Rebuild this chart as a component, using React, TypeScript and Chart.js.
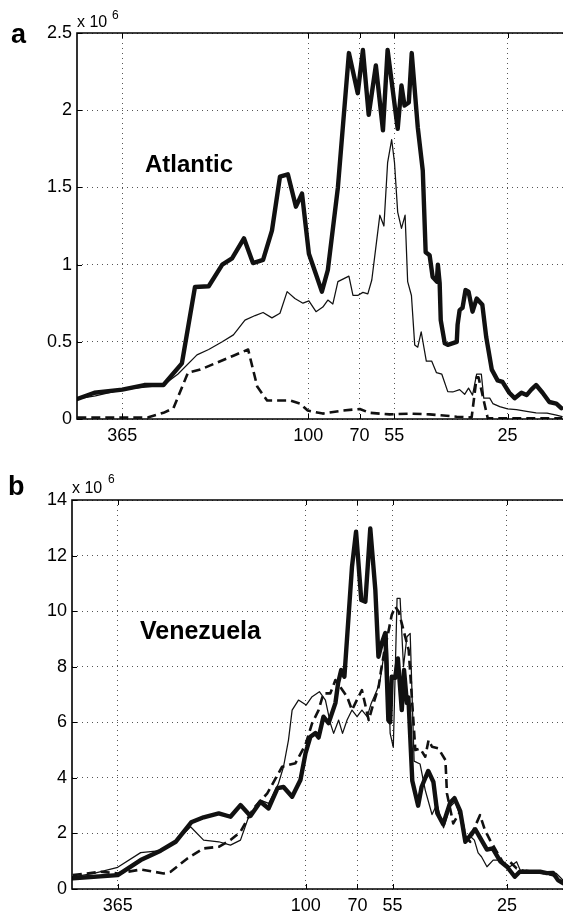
import React, { useEffect, useRef } from "react";
import { Chart, registerables } from "chart.js";

Chart.register(...registerables);

const FONT = '"Liberation Sans", Arial, Helvetica, sans-serif';

// x axis: period in days (log scale, long periods on the left)
const periodTicks = [365, 100, 70, 55, 25];
const periodMin = 17;
const periodMax = 500;

// ---------- Panel a: Atlantic (values in units of 10^6) ----------
const atlanticYTicks = [0, 0.5, 1, 1.5, 2, 2.5];

const atlanticThickPeriod = [499, 443, 365, 313, 274, 241, 220, 200, 182, 170, 156.5, 147, 137, 128.8, 121.8, 115.3, 109, 104.5, 99.6, 94.2, 91, 87.3, 81.4, 75.4, 70.9, 68.4, 65.7, 62.5, 59.5, 57.6, 53.7, 52.3, 51.2, 49.7, 48.7, 46.7, 45.1, 44.2, 43.0, 42.1, 40.9, 40.6, 40.1, 39.8, 38.7, 37.9, 35.6, 35.4, 34.9, 34.2, 33.5, 32.8, 31.9, 31.0, 29.8, 29.0, 27.9, 26.8, 25.9, 24.7, 23.8, 22.7, 21.9, 21.2, 20.5, 19.6, 18.7, 17.8, 17.2];
const atlanticThickValue = [0.13, 0.17, 0.19, 0.22, 0.22, 0.36, 0.855, 0.86, 1.0, 1.04, 1.17, 1.01, 1.03, 1.22, 1.57, 1.585, 1.375, 1.46, 1.07, 0.92, 0.825, 0.965, 1.5, 2.37, 2.11, 2.39, 1.97, 2.29, 1.87, 2.39, 1.88, 2.16, 2.03, 2.05, 2.37, 1.89, 1.61, 1.08, 1.06, 0.92, 0.89, 1.0, 0.88, 0.64, 0.49, 0.48, 0.5, 0.61, 0.705, 0.72, 0.835, 0.825, 0.695, 0.78, 0.74, 0.53, 0.32, 0.25, 0.24, 0.17, 0.135, 0.17, 0.155, 0.19, 0.22, 0.17, 0.11, 0.1, 0.07];

const atlanticThinPeriod = [499, 440, 365, 274, 248, 217, 200, 182, 168.4, 155.4, 144.8, 137, 128.8, 121.8, 115.9, 109.8, 103.8, 99.6, 94.8, 90.4, 87.3, 84.3, 81.4, 75.4, 73.3, 70.9, 68.4, 66.1, 64.3, 60.8, 59.1, 57.6, 56.0, 54.9, 53.7, 52.3, 51.0, 50.1, 48.8, 47.7, 46.7, 45.6, 44.0, 42.4, 41.0, 39.5, 37.9, 36.6, 34.9, 33.7, 32.8, 31.9, 31.0, 30.0, 29.5, 28.3, 27.7, 26.4, 25.0, 23.5, 21.9, 20.5, 19.0, 17.8, 17.1];
const atlanticThinValue = [0.13, 0.15, 0.19, 0.22, 0.29, 0.415, 0.45, 0.5, 0.545, 0.64, 0.67, 0.69, 0.655, 0.685, 0.825, 0.78, 0.75, 0.765, 0.695, 0.725, 0.77, 0.745, 0.89, 0.925, 0.8, 0.8, 0.82, 0.81, 0.9, 1.32, 1.25, 1.66, 1.81, 1.66, 1.34, 1.235, 1.32, 0.89, 0.8, 0.48, 0.465, 0.565, 0.375, 0.375, 0.3, 0.29, 0.177, 0.175, 0.19, 0.16, 0.2, 0.155, 0.29, 0.29, 0.135, 0.135, 0.1, 0.08, 0.065, 0.06, 0.05, 0.04, 0.038, 0.025, 0.015];

const atlanticDashedPeriod = [499, 365, 306, 274, 255.6, 231, 212, 168.4, 152, 142.7, 133.2, 113.7, 106, 100.4, 90.4, 78.6, 69.9, 65.2, 56.8, 49.4, 43.0, 35.6, 32.1, 31.0, 30.6, 28.7, 26.4, 17.1];
const atlanticDashedValue = [0.01, 0.01, 0.01, 0.04, 0.07, 0.3, 0.32, 0.41, 0.45, 0.21, 0.12, 0.12, 0.1, 0.055, 0.035, 0.055, 0.065, 0.04, 0.03, 0.035, 0.03, 0.015, 0.01, 0.27, 0.27, 0.005, 0.005, 0.005];

// ---------- Panel b: Venezuela (values in units of 10^6) ----------
const venezuelaYTicks = [0, 2, 4, 6, 8, 10, 12, 14];

const venezuelaThickPeriod = [497, 365, 311.6, 271.6, 244.9, 220, 202, 182, 167.9, 156.7, 146.3, 136.6, 129.1, 121.4, 116.5, 109.8, 103.7, 100.1, 96.8, 93.5, 91.5, 88.5, 85.4, 81.5, 80.0, 78.3, 76.6, 72.7, 70.7, 68.2, 66.3, 64.1, 61.9, 60.6, 59.2, 57.8, 56.6, 55.9, 55.3, 54.0, 53.0, 51.6, 50.8, 49.8, 49.3, 48.0, 46.1, 45.0, 43.0, 41.5, 40.4, 38.8, 37.0, 35.9, 34.5, 33.3, 32.0, 31.1, 30.1, 28.7, 27.6, 26.2, 25.0, 23.7, 22.9, 21.7, 19.9, 19.0, 18.2, 17.6, 17.0];
const venezuelaThickValue = [0.385, 0.5, 1.04, 1.38, 1.7, 2.4, 2.58, 2.72, 2.6, 3.02, 2.63, 3.14, 2.9, 3.63, 3.67, 3.32, 3.92, 4.89, 5.48, 5.61, 5.45, 6.2, 5.97, 6.69, 7.41, 7.88, 7.64, 11.6, 12.86, 10.4, 10.34, 12.98, 10.76, 8.36, 8.85, 9.21, 6.08, 6.0, 7.64, 7.6, 8.3, 6.44, 7.88, 6.69, 6.9, 3.9, 3.0, 3.68, 4.25, 3.85, 2.73, 2.33, 3.1, 3.27, 2.8, 1.7, 1.97, 2.15, 1.85, 1.42, 1.46, 1.0, 0.8, 0.44, 0.62, 0.62, 0.62, 0.57, 0.58, 0.32, 0.21];

const venezuelaThinPeriod = [497, 430, 365, 311.6, 271.6, 244.9, 221, 202, 182, 167.9, 156.7, 148.1, 136.6, 129.1, 120.6, 116.5, 112.6, 109.8, 105.1, 99.7, 95.7, 91.0, 87.3, 84.4, 82.5, 79.7, 77.6, 75.2, 72.7, 70.2, 67.9, 65.5, 63.7, 61.2, 59.9, 57.1, 55.9, 54.7, 53.3, 52.2, 51.0, 49.8, 48.7, 47.4, 45.5, 43.9, 41.9, 40.5, 38.7, 37.0, 35.7, 34.5, 33.3, 32.2, 31.3, 30.5, 29.8, 28.7, 27.5, 26.2, 24.5, 23.4, 22.6, 21.9, 20.4, 19.0, 17.8, 17.0];
const venezuelaThinValue = [0.44, 0.56, 0.78, 1.31, 1.38, 1.7, 2.24, 1.76, 1.7, 1.58, 1.76, 2.6, 3.2, 3.08, 3.8, 4.4, 5.36, 6.44, 6.8, 6.62, 6.92, 7.1, 6.8, 5.97, 5.6, 6.08, 5.6, 6.08, 6.44, 6.2, 6.44, 6.2, 6.68, 7.16, 7.52, 9.2, 5.6, 5.1, 10.46, 10.46, 8.0, 9.08, 9.2, 4.6, 4.5, 3.56, 2.68, 3.05, 2.2, 2.96, 3.15, 2.6, 1.7, 1.9, 1.76, 1.3, 1.16, 0.8, 1.04, 1.04, 0.8, 0.98, 0.56, 0.68, 0.62, 0.6, 0.56, 0.32];

const venezuelaDashedPeriod = [497, 410, 365, 311.6, 266, 253.6, 225.8, 202, 182, 167.9, 156.7, 143.3, 130.3, 117.6, 107.3, 100.1, 95.7, 91.5, 88.5, 84.4, 81.5, 75.2, 72.7, 71.1, 67.9, 64.8, 62.7, 60.5, 59.5, 58.1, 56.7, 55.3, 54.0, 52.7, 51.6, 50.4, 49.2, 47.0, 45.5, 43.9, 42.9, 41.9, 40.1, 38.2, 37.8, 36.2, 34.5, 33.3, 32.2, 31.5, 30.1, 29.1, 28.1, 25.6, 24.5, 23.4, 21.9, 19.9, 18.2, 17.4, 17.0];
const venezuelaDashedValue = [0.5, 0.62, 0.56, 0.7, 0.56, 0.62, 1.1, 1.46, 1.52, 1.76, 2.06, 2.9, 3.44, 4.4, 4.53, 5.2, 5.96, 6.44, 7.04, 7.04, 7.52, 6.92, 6.44, 6.68, 7.16, 6.08, 6.68, 7.28, 7.88, 8.6, 9.2, 9.86, 10.16, 9.98, 9.56, 9.08, 8.6, 5.0, 5.06, 4.76, 5.36, 5.12, 5.06, 4.64, 3.44, 2.36, 2.8, 1.88, 1.7, 2.12, 2.66, 2.12, 1.76, 0.92, 0.98, 0.74, 0.62, 0.6, 0.5, 0.32, 0.28];

type Style = "thick" | "thin" | "dashed";
type Series = { name: string; periods: number[]; values: number[]; style: Style };
type Txt = { text: string; font: string; x: number; y: number };
type Panel = {
  key: string;
  height: number;
  padTop: number;
  yWidth: number;
  xHeight: number;
  yTicks: number[];
  series: Series[];
  texts: Txt[];
};

const STYLE: Record<Style, { borderWidth: number; borderDash: number[] }> = {
  thick: { borderWidth: 4.4, borderDash: [] },
  thin: { borderWidth: 1.25, borderDash: [] },
  dashed: { borderWidth: 2.6, borderDash: [9, 5] },
};

const panels: Panel[] = [
  {
    key: "a",
    height: 450,
    padTop: 33,
    yWidth: 77,
    xHeight: 31,
    yTicks: atlanticYTicks,
    series: [
      { name: "thick", periods: atlanticThickPeriod, values: atlanticThickValue, style: "thick" },
      { name: "thin", periods: atlanticThinPeriod, values: atlanticThinValue, style: "thin" },
      { name: "dashed", periods: atlanticDashedPeriod, values: atlanticDashedValue, style: "dashed" },
    ],
    texts: [
      { text: "a", font: `bold 27px ${FONT}`, x: 11, y: 43 },
      { text: "x 10", font: `16px ${FONT}`, x: 77, y: 27 },
      { text: "6", font: `12px ${FONT}`, x: 112, y: 19 },
      { text: "Atlantic", font: `bold 24px ${FONT}`, x: 145, y: 172 },
    ],
  },
  {
    key: "b",
    height: 465,
    padTop: 50,
    yWidth: 72,
    xHeight: 26,
    yTicks: venezuelaYTicks,
    series: [
      { name: "thick", periods: venezuelaThickPeriod, values: venezuelaThickValue, style: "thick" },
      { name: "thin", periods: venezuelaThinPeriod, values: venezuelaThinValue, style: "thin" },
      { name: "dashed", periods: venezuelaDashedPeriod, values: venezuelaDashedValue, style: "dashed" },
    ],
    texts: [
      { text: "b", font: `bold 27px ${FONT}`, x: 8, y: 45 },
      { text: "x 10", font: `16px ${FONT}`, x: 72, y: 43 },
      { text: "6", font: `12px ${FONT}`, x: 108, y: 33 },
      { text: "Venezuela", font: `bold 25px ${FONT}`, x: 140, y: 189 },
    ],
  },
];

function PanelChart({ panel }: { panel: Panel }) {
  const ref = useRef<HTMLCanvasElement | null>(null);

  useEffect(() => {
    const canvas = ref.current;
    if (!canvas) return;

    const decor = {
      id: "decor" + panel.key,
      afterDraw(chart: any) {
        const ctx = chart.ctx as CanvasRenderingContext2D;
        const { left, right, top, bottom } = chart.chartArea;
        const xs = chart.scales.x;
        const ys = chart.scales.y;
        ctx.save();
        ctx.strokeStyle = "#000";
        ctx.lineWidth = 1;
        ctx.beginPath();
        for (const v of periodTicks) {
          const px = Math.round(xs.getPixelForValue(v)) + 0.5;
          ctx.moveTo(px, bottom);
          ctx.lineTo(px, bottom - 5);
          ctx.moveTo(px, top);
          ctx.lineTo(px, top + 5);
        }
        for (const v of panel.yTicks) {
          const py = Math.round(ys.getPixelForValue(v)) + 0.5;
          ctx.moveTo(left, py);
          ctx.lineTo(left + 5, py);
        }
        ctx.stroke();
        ctx.lineWidth = 1.6;
        ctx.beginPath();
        ctx.moveTo(right, top);
        ctx.lineTo(left, top);
        ctx.lineTo(left, bottom);
        ctx.lineTo(right, bottom);
        ctx.stroke();
        ctx.fillStyle = "#000";
        ctx.textAlign = "left";
        ctx.textBaseline = "alphabetic";
        for (const t of panel.texts) {
          ctx.font = t.font;
          ctx.fillText(t.text, t.x, t.y);
        }
        ctx.restore();
      },
    };

    const yMin = panel.yTicks[0];
    const yMax = panel.yTicks[panel.yTicks.length - 1];

    const chart = new Chart(canvas, {
      type: "line",
      data: {
        datasets: panel.series.map((s) => ({
          label: s.name,
          data: s.periods.map((p, i) => ({ x: p, y: s.values[i] })),
          borderColor: "#111",
          backgroundColor: "#111",
          borderWidth: STYLE[s.style].borderWidth,
          borderDash: STYLE[s.style].borderDash,
          borderJoinStyle: "round" as const,
          borderCapStyle: s.style === "dashed" ? ("butt" as const) : ("round" as const),
          pointRadius: 0,
          pointHoverRadius: 0,
          tension: 0,
          fill: false,
        })),
      },
      options: {
        animation: false,
        responsive: false,
        devicePixelRatio: 1,
        events: [],
        layout: { padding: { top: panel.padTop, left: 0, right: 0, bottom: 0 } },
        plugins: { legend: { display: false }, tooltip: { enabled: false }, title: { display: false } },
        scales: {
          x: {
            type: "logarithmic",
            reverse: true,
            min: periodMin,
            max: periodMax,
            afterBuildTicks: (scale: any) => {
              scale.ticks = periodTicks.map((v) => ({ value: v }));
            },
            afterFit: (scale: any) => {
              scale.height = panel.xHeight;
            },
            ticks: {
              autoSkip: false,
              maxRotation: 0,
              padding: 6,
              color: "#000",
              font: { family: FONT, size: 18 },
              callback: (v: any) => String(v),
            },
            grid: { color: "#555", lineWidth: 1, drawTicks: false },
            border: { display: false, dash: [1, 4] },
          },
          y: {
            type: "linear",
            min: yMin,
            max: yMax,
            afterBuildTicks: (scale: any) => {
              scale.ticks = panel.yTicks.map((v) => ({ value: v }));
            },
            afterFit: (scale: any) => {
              scale.width = panel.yWidth;
            },
            ticks: {
              padding: 5,
              color: "#000",
              font: { family: FONT, size: 18 },
              callback: (v: any) => String(v),
            },
            grid: { color: "#555", lineWidth: 1, drawTicks: false },
            border: { display: false, dash: [1, 4] },
          },
        },
      },
      plugins: [decor],
    });

    return () => chart.destroy();
  }, [panel]);

  return <canvas ref={ref} width={563} height={panel.height} style={{ display: "block" }} />;
}

export default function App() {
  return (
    <div style={{ position: "absolute", left: 0, top: 0, width: 563, height: 915, background: "#fff", overflow: "hidden" }}>
      {panels.map((p) => (
        <PanelChart key={p.key} panel={p} />
      ))}
    </div>
  );
}
